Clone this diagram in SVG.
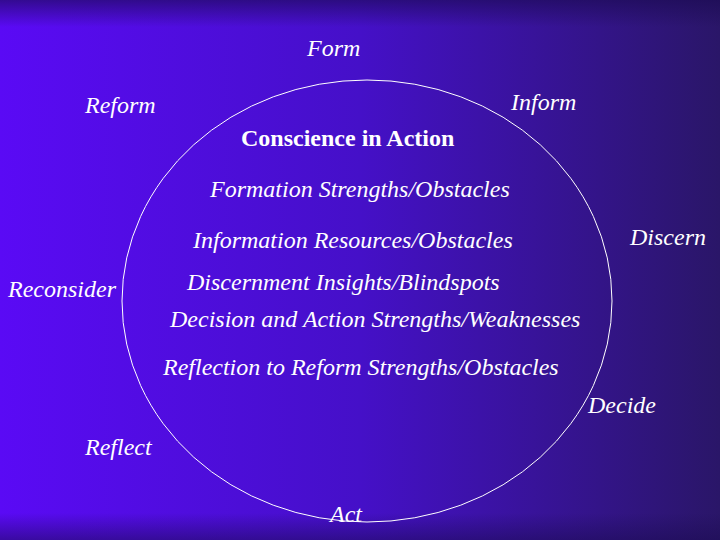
<svg xmlns="http://www.w3.org/2000/svg" width="720" height="540" viewBox="0 0 720 540">
<defs>
<linearGradient id="bg" x1="0" y1="0" x2="1" y2="0">
<stop offset="0" stop-color="#5a0af5"/>
<stop offset="0.5" stop-color="#4510c8"/>
<stop offset="1" stop-color="#2a1668"/>
</linearGradient>
<linearGradient id="top" x1="0" y1="0" x2="0" y2="1">
<stop offset="0" stop-color="#1a0a50" stop-opacity="0.6"/>
<stop offset="0.05" stop-color="#1a0a50" stop-opacity="0"/>
<stop offset="0.95" stop-color="#1a0a50" stop-opacity="0"/>
<stop offset="1" stop-color="#1a0a50" stop-opacity="0.5"/>
</linearGradient>
</defs>
<style>
text{font-family:"Liberation Serif",serif;font-size:24px;fill:#fff;font-style:italic}
.b{font-weight:bold;font-style:normal}
</style>
<rect width="720" height="540" fill="url(#bg)"/>
<rect width="720" height="540" fill="url(#top)"/>
<g id="connectors">
<ellipse cx="367" cy="301" rx="245" ry="221" fill="none" stroke="#fff" stroke-width="1"/>
</g>
<g id="form"><text x="307" y="56">Form</text></g>
<g id="reform"><text x="85" y="113">Reform</text></g>
<g id="inform"><text x="511" y="110">Inform</text></g>
<g id="title"><text class="b" x="241" y="146">Conscience in Action</text></g>
<g id="l1"><text x="210" y="197">Formation Strengths/Obstacles</text></g>
<g id="l2"><text x="193" y="248">Information Resources/Obstacles</text></g>
<g id="discern"><text x="630" y="245">Discern</text></g>
<g id="reconsider"><text x="8" y="297">Reconsider</text></g>
<g id="l3"><text x="187" y="290">Discernment Insights/Blindspots</text></g>
<g id="l4"><text x="170" y="327">Decision and Action Strengths/Weaknesses</text></g>
<g id="l5"><text x="163" y="375">Reflection to Reform Strengths/Obstacles</text></g>
<g id="decide"><text x="588" y="413">Decide</text></g>
<g id="reflect"><text x="85" y="455">Reflect</text></g>
<g id="act"><text x="330" y="522">Act</text></g>
</svg>
